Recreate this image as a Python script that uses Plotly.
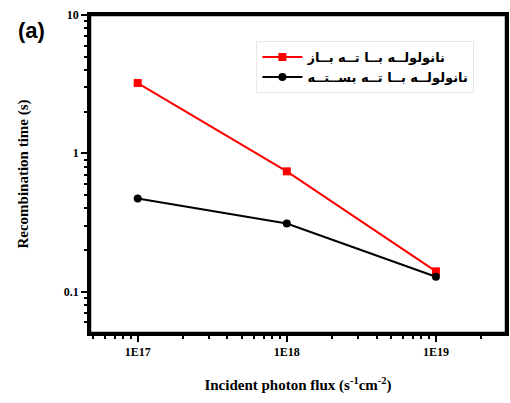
import plotly.graph_objects as go

flux = [1e17, 1e18, 1e19]
open_end = [3.22, 0.74, 0.14]
closed_end = [0.47, 0.31, 0.128]
series_names = ["نانولولــه بــا تــه بــاز", "نانولولــه بــا تــه بســتــه"]
x_tick_vals = [1e17, 1e18, 1e19]
x_tick_text = ["1E17", "1E18", "1E19"]
y_tick_vals = [0.1, 1, 10]
y_tick_text = ["0.1", "1", "10"]

fig = go.Figure()
fig.add_trace(go.Scatter(x=flux, y=open_end, mode="lines+markers", name=series_names[0],
                         line=dict(color="#ff0000", width=2),
                         marker=dict(symbol="square", size=8, color="#ff0000")))
fig.add_trace(go.Scatter(x=flux, y=closed_end, mode="lines+markers", name=series_names[1],
                         line=dict(color="#000000", width=2),
                         marker=dict(symbol="circle", size=8, color="#000000")))

axis_font = dict(family="Liberation Serif", size=12, color="black", weight="bold")
common = dict(showline=True, linewidth=2.5, linecolor="black", mirror=True, showgrid=False,
              zeroline=False, ticks="outside", ticklen=6, tickwidth=2, tickcolor="black",
              tickfont=axis_font, automargin=False,
              minor=dict(ticks="outside", ticklen=3, tickwidth=2, tickcolor="black",
                         dtick="D1", showgrid=False))
fig.update_xaxes(type="log", range=[16.68, 19.47], tickvals=x_tick_vals, ticktext=x_tick_text,
                 title=dict(text="<b>Incident photon flux (s<sup>-1</sup>cm<sup>-2</sup>)</b>",
                            font=dict(family="Liberation Serif", size=15, color="black"), standoff=22),
                 **common)
fig.update_yaxes(type="log", range=[-1.3, 1], tickvals=y_tick_vals, ticktext=y_tick_text,
                 title=dict(text="<b>Recombination time (s)</b>",
                            font=dict(family="Liberation Serif", size=15, color="black"), standoff=32),
                 **common)

fig.update_layout(
    width=510, height=403,
    margin=dict(l=90, r=4, t=15, b=70),
    paper_bgcolor="white", plot_bgcolor="white",
    font=dict(family="Liberation Serif", color="black"),
    showlegend=True,
    legend=dict(x=0.40, y=0.918, xanchor="left", yanchor="top",
                bgcolor="white", bordercolor="#e8e8e8", borderwidth=1,
                font=dict(family="DejaVu Sans", size=13, color="black", weight="bold"),
                itemwidth=40, tracegroupgap=0),
    shapes=[dict(type="rect", xref="paper", yref="paper", x0=0, x1=1, y0=0, y1=1,
                 line=dict(color="black", width=2.5), layer="above")],
    annotations=[dict(text="<b>(a)</b>", x=-0.14, y=0.95, xref="paper", yref="paper",
                      xanchor="center", yanchor="middle", showarrow=False,
                      font=dict(family="Liberation Sans", size=22, color="black"))],
)

fig.write_html("out.html", config={"displayModeBar": False},
               post_script="document.body.style.margin='0';document.body.style.overflow='hidden';")
